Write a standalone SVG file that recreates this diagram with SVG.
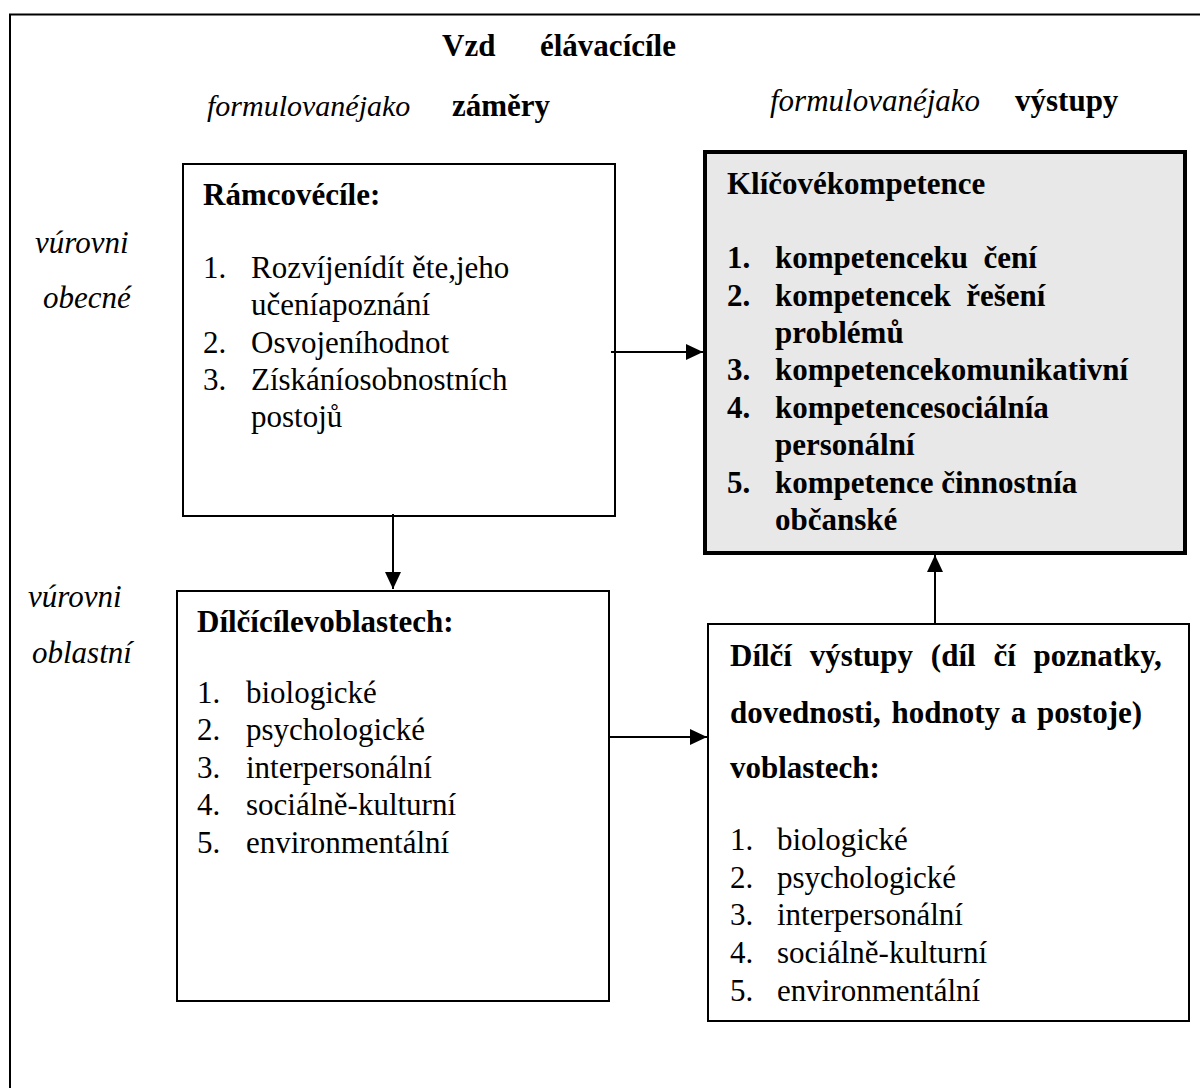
<svg xmlns="http://www.w3.org/2000/svg" width="1200" height="1088" viewBox="0 0 1200 1088">
<style>
text{font-family:"Liberation Serif","Times New Roman",serif;font-size:31px;fill:#000}
.b{font-weight:bold}
.i{font-style:italic}
.box{fill:#fff;stroke:#000;stroke-width:2}
.kbox{fill:#e8e8e8;stroke:#000;stroke-width:4}
.con{stroke:#000;stroke-width:2;fill:none;marker-end:url(#ah)}
</style>
<defs>
<marker id="ah" markerUnits="userSpaceOnUse" markerWidth="18" markerHeight="16" refX="17" refY="8" orient="auto">
<path d="M0,0 L17,8 L0,16 Z" fill="#000"/>
</marker>
</defs>
<rect width="1200" height="1088" fill="#fff"/>
<path d="M10,1088 V14.5 H1200" fill="none" stroke="#000" stroke-width="2"/>
<g id="headings">
<text class="b" y="56"><tspan x="442">Vzd</tspan><tspan x="540">élávacícíle</tspan></text>
<text y="116"><tspan x="207" class="i" style="font-size:30px">formulovanéjako</tspan><tspan x="452" class="b">záměry</tspan></text>
<text y="111"><tspan x="770" class="i">formulovanéjako</tspan><tspan x="1015" class="b">výstupy</tspan></text>
<text class="i" x="35" y="253">vúrovni</text>
<text class="i" x="43" y="308">obecné</text>
<text class="i" x="28" y="607">vúrovni</text>
<text class="i" x="32" y="663">oblastní</text>
</g>
<g id="ramcove">
<rect class="box" x="183" y="164" width="432" height="352"/>
<text class="b" x="203" y="205">Rámcovécíle:</text>
<text x="203" y="278">1.</text><text x="251" y="278">Rozvíjenídít ěte,jeho</text>
<text x="251" y="315">učeníapoznání</text>
<text x="203" y="353">2.</text><text x="251" y="353">Osvojeníhodnot</text>
<text x="203" y="390">3.</text><text x="251" y="390">Získáníosobnostních</text>
<text x="251" y="427">postojů</text>
</g>
<g id="klicove">
<rect class="kbox" x="705" y="152" width="480" height="401"/>
<text class="b" x="727" y="194">Klíčovékompetence</text>
<text class="b" x="727" y="268">1.</text><text class="b" x="775" y="268" xml:space="preserve">kompetenceku  čení</text>
<text class="b" x="727" y="306">2.</text><text class="b" x="775" y="306" xml:space="preserve">kompetencek  řešení</text>
<text class="b" x="775" y="343">problémů</text>
<text class="b" x="727" y="380">3.</text><text class="b" x="775" y="380">kompetencekomunikativní</text>
<text class="b" x="727" y="418">4.</text><text class="b" x="775" y="418">kompetencesociálnía</text>
<text class="b" x="775" y="455">personální</text>
<text class="b" x="727" y="493">5.</text><text class="b" x="775" y="493">kompetence činnostnía</text>
<text class="b" x="775" y="530">občanské</text>
</g>
<g id="dilci-cile">
<rect class="box" x="177" y="591" width="432" height="410"/>
<text class="b" x="197" y="632">Dílčícílevoblastech:</text>
<text x="197" y="703">1.</text><text x="246" y="703">biologické</text>
<text x="197" y="740">2.</text><text x="246" y="740">psychologické</text>
<text x="197" y="778">3.</text><text x="246" y="778">interpersonální</text>
<text x="197" y="815">4.</text><text x="246" y="815">sociálně-kulturní</text>
<text x="197" y="853">5.</text><text x="246" y="853">environmentální</text>
</g>
<g id="dilci-vystupy">
<rect class="box" x="708" y="624" width="481" height="397"/>
<text class="b" x="730" y="666" style="word-spacing:10px">Dílčí výstupy (díl čí poznatky,</text>
<text class="b" x="730" y="723" style="word-spacing:3px">dovednosti, hodnoty a postoje)</text>
<text class="b" x="730" y="778">voblastech:</text>
<text x="730" y="850">1.</text><text x="777" y="850">biologické</text>
<text x="730" y="888">2.</text><text x="777" y="888">psychologické</text>
<text x="730" y="925">3.</text><text x="777" y="925">interpersonální</text>
<text x="730" y="963">4.</text><text x="777" y="963">sociálně-kulturní</text>
<text x="730" y="1001">5.</text><text x="777" y="1001">environmentální</text>
</g>
<g id="connectors">
<line class="con" x1="611" y1="352" x2="703" y2="352"/>
<line class="con" x1="393" y1="514" x2="393" y2="589"/>
<line class="con" x1="609" y1="737" x2="707" y2="737"/>
<line class="con" x1="935" y1="623" x2="935" y2="555"/>
</g>
</svg>
